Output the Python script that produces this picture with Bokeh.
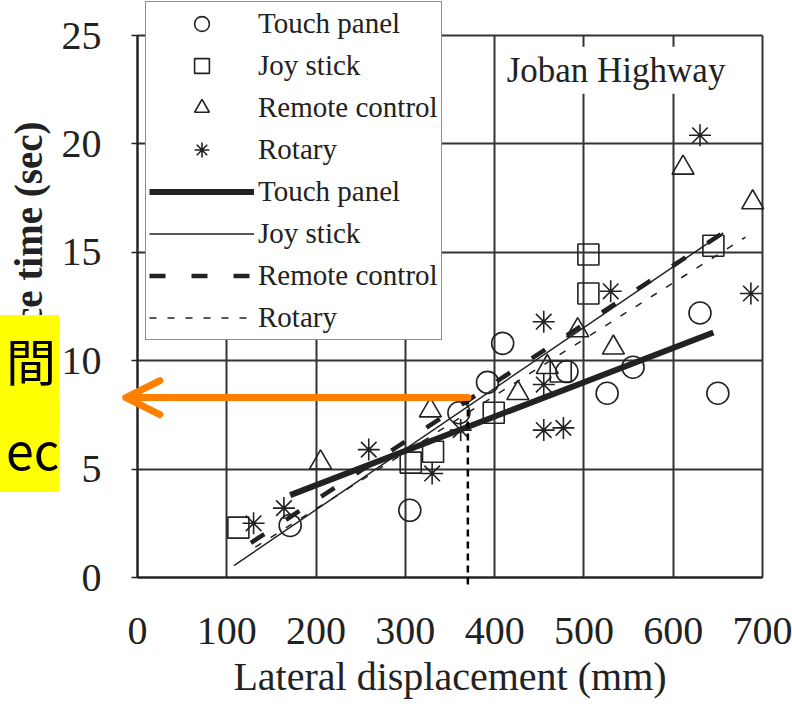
from bokeh.plotting import figure
from bokeh.models import (Range1d, Legend, LegendItem, Label, Arrow, OpenHead,
                          FixedTicker)
from bokeh.embed import file_html
from bokeh.resources import INLINE

# ---- data ----
touch_x = [171, 305, 360, 392, 409, 481, 526, 555, 630, 650]
touch_y = [2.4, 3.1, 7.6, 9.0, 10.8, 9.5, 8.5, 9.7, 12.2, 8.5]
joy_x = [113, 306, 331, 399, 474, 505, 505, 645]
joy_y = [2.3, 5.3, 5.8, 7.6, 9.5, 14.9, 13.1, 15.3]
remote_x = [205, 328, 426, 459, 493, 533, 611, 689]
remote_y = [5.3, 7.7, 8.5, 9.7, 11.4, 10.6, 18.9, 17.3]
rotary_x = [130, 164, 259, 330, 362, 455, 455, 455, 477, 530, 630, 687]
rotary_y = [2.5, 3.2, 5.9, 4.8, 6.8, 11.8, 8.9, 6.8, 6.9, 13.2, 20.4, 13.1]

touch_fit_x = [171, 645]
touch_fit_y = [3.8, 11.3]
joy_fit_x = [108, 656]
joy_fit_y = [0.55, 15.9]
remote_fit_x = [127, 656]
remote_fit_y = [1.6, 15.9]
rotary_fit_x = [132, 681]
rotary_fit_y = [1.4, 15.7]

x_ticks = [0, 100, 200, 300, 400, 500, 600, 700]
y_ticks = [0, 5, 10, 15, 20, 25]

marker_names = ["Touch panel", "Joy stick", "Remote control", "Rotary"]
line_names = ["Touch panel", "Joy stick", "Remote control", "Rotary"]
note_texts = ["間", "ec"]

ref_x = 370      # lateral displacement marked by the dashed line
ref_y = 8.3      # time pointed to by the arrow

INK = "#222222"
SERIF = "Liberation Serif"
ORANGE = "#FF8000"

W, H = 792, 712
X0_PX, X700_PX = 137, 762       # where 0 and 700 mm sit
Y0_PX, Y25_PX = 577, 35         # where 0 and 25 s sit (from top)
kx = (X700_PX - X0_PX) / 700.0
ky = (Y0_PX - Y25_PX) / 25.0

# The frame covers the whole canvas; the axes are pinned at 0 so that the legend,
# the note box and the arrow may sit where the reference has them.
p = figure(width=W, height=H,
           x_range=Range1d(-X0_PX / kx, (W - X0_PX) / kx),
           y_range=Range1d(-(H - Y0_PX) / ky, Y0_PX / ky),
           output_backend="svg", toolbar_location=None,
           min_border_left=0, min_border_right=0, min_border_top=0,
           min_border_bottom=0)
p.background_fill_color = "white"
p.border_fill_color = "white"
p.outline_line_color = None

p.xaxis.ticker = FixedTicker(ticks=x_ticks)
p.yaxis.ticker = FixedTicker(ticks=y_ticks)
p.xaxis.fixed_location = 0
p.yaxis.fixed_location = 0
p.xaxis.bounds = (0, 700)
p.yaxis.bounds = (0, 25)

p.xgrid.ticker = FixedTicker(ticks=x_ticks)
p.ygrid.ticker = FixedTicker(ticks=y_ticks)
p.xgrid.cross_bounds = (0, 25)
p.ygrid.cross_bounds = (0, 700)
for g in (p.xgrid, p.ygrid):
    g.grid_line_color = "#333333"
    g.grid_line_width = 2
    g.grid_line_alpha = 1.0

for ax in (p.xaxis, p.yaxis):
    ax.axis_line_color = INK
    ax.axis_line_width = 2
    ax.major_tick_line_color = INK
    ax.major_tick_line_width = 1.5
    ax.minor_tick_line_color = None
    ax.major_label_text_font = SERIF
    ax.major_label_text_font_size = "40px"
    ax.major_label_text_color = INK
p.xaxis.major_tick_out = 0
p.xaxis.major_tick_in = 0
p.xaxis.major_label_standoff = 40
p.yaxis.major_tick_out = 6
p.yaxis.major_tick_in = 0
p.yaxis.major_label_standoff = 30

p.xaxis.axis_label = "Lateral displacement (mm)"
p.xaxis.axis_label_text_font = SERIF
p.xaxis.axis_label_text_font_size = "40px"
p.xaxis.axis_label_text_font_style = "normal"
p.xaxis.axis_label_text_color = INK
p.xaxis.axis_label_standoff = 7

p.yaxis.axis_label = "Total glance time (sec)"
p.yaxis.axis_label_text_font = SERIF
p.yaxis.axis_label_text_font_size = "39px"
p.yaxis.axis_label_text_font_style = "bold"
p.yaxis.axis_label_text_color = INK
p.yaxis.axis_label_standoff = 9

# ---- markers ----
r_touch = p.scatter(touch_x, touch_y, marker="circle", size=22, fill_alpha=0,
                    line_color=INK, line_width=1.6)
r_joy = p.scatter(joy_x, joy_y, marker="square", size=21, fill_alpha=0,
                  line_color=INK, line_width=1.6)
r_remote = p.scatter(remote_x, remote_y, marker="triangle", size=22, fill_alpha=0,
                     line_color=INK, line_width=1.6)
r_rotary = p.scatter(rotary_x, rotary_y, marker="asterisk", size=22,
                     line_color=INK, line_width=1.6)

# ---- fitted lines ----
l_touch = p.line(touch_fit_x, touch_fit_y, line_color=INK, line_width=6)
l_joy = p.line(joy_fit_x, joy_fit_y, line_color=INK, line_width=1.5)
l_remote = p.line(remote_fit_x, remote_fit_y, line_color=INK, line_width=4.5,
                  line_dash="16 26")
l_rotary = p.line(rotary_fit_x, rotary_fit_y, line_color=INK, line_width=1.5,
                  line_dash="7 11")

legend = Legend(items=[
    LegendItem(label=marker_names[0], renderers=[r_touch]),
    LegendItem(label=marker_names[1], renderers=[r_joy]),
    LegendItem(label=marker_names[2], renderers=[r_remote]),
    LegendItem(label=marker_names[3], renderers=[r_rotary]),
    LegendItem(label=line_names[0], renderers=[l_touch]),
    LegendItem(label=line_names[1], renderers=[l_joy]),
    LegendItem(label=line_names[2], renderers=[l_remote]),
    LegendItem(label=line_names[3], renderers=[l_rotary]),
], location=(145, H - 340))
legend.glyph_width = 105
legend.glyph_height = 37
legend.label_height = 37
legend.spacing = 5
legend.padding = 3
legend.margin = 0
legend.label_standoff = 4
legend.label_text_font = SERIF
legend.label_text_font_size = "29px"
legend.label_text_color = INK
legend.border_line_color = INK
legend.border_line_width = 1.5
legend.background_fill_color = "white"
legend.background_fill_alpha = 1.0
p.add_layout(legend, "center")

# ---- annotations ----
p.add_layout(Label(x=409, y=23.4, text="Joban Highway", text_font=SERIF,
                   text_font_size="35px", text_color=INK, text_baseline="middle",
                   background_fill_color="white", background_fill_alpha=1.0,
                   padding=4))

# dashed vertical marker and orange arrow
p.add_layout(Arrow(x_start=ref_x, y_start=ref_y, x_end=ref_x, y_end=-0.46, end=None,
                   line_color="black", line_width=2.5, line_dash="7 5"))
p.add_layout(Arrow(x_start=ref_x, y_start=ref_y, x_end=-13, y_end=ref_y,
                   line_color=ORANGE, line_width=7, line_cap="round",
                   end=OpenHead(size=34, line_color=ORANGE, line_width=7,
                                line_cap="round", line_join="round")))

# yellow note box at the left edge
r_note = p.scatter(x=[], y=[], size=0, fill_alpha=0, line_alpha=0)
note = Legend(items=[LegendItem(label=t, renderers=[r_note]) for t in note_texts],
              location=(0, H - 492))
note.glyph_width = 6
note.glyph_height = 88
note.label_height = 88
note.label_standoff = 0
note.spacing = 1
note.padding = 0
note.margin = 0
note.label_text_font = "Noto Sans CJK JP"
note.label_text_font_size = "50px"
note.label_text_color = "black"
note.border_line_color = None
note.background_fill_color = "#FFFF00"
note.background_fill_alpha = 1.0
p.add_layout(note, "center")

open("out.html", "w").write(file_html(p, INLINE))
